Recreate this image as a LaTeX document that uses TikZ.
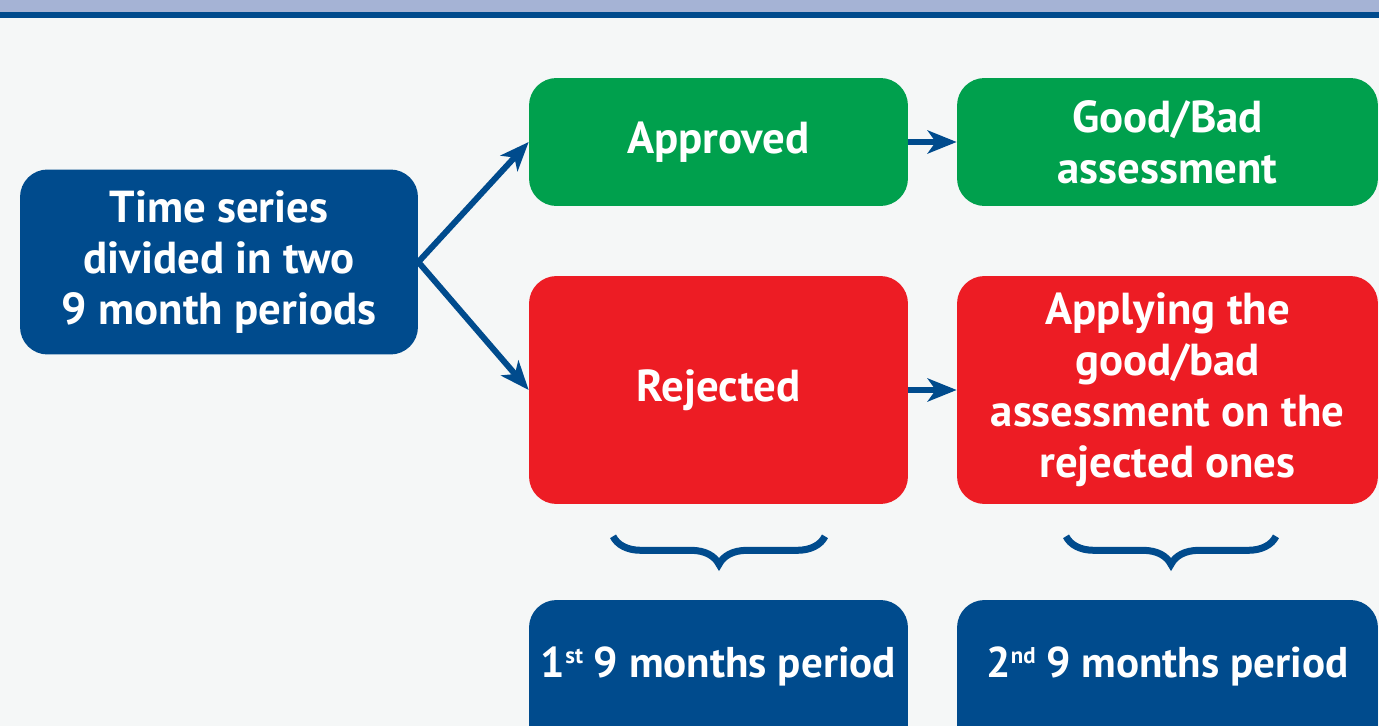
\documentclass[tikz,border=0pt]{standalone}
\usepackage{fontspec}
\setmainfont{PT Sans}
\usetikzlibrary{arrows.meta,decorations.pathreplacing}
\definecolor{darkblue}{HTML}{004B8D}
\definecolor{lightbar}{HTML}{A5B3D5}
\definecolor{okgreen}{HTML}{00A04D}
\definecolor{badred}{HTML}{ED1C24}
\definecolor{paper}{HTML}{F5F7F7}
\newcommand{\ordsup}[1]{\raisebox{0.62ex}{\fontsize{13}{13}\selectfont #1}}

\begin{document}
\begin{tikzpicture}[x=0.02cm,y=-0.02cm,
  box/.style={rounded corners=0.55cm, text=white, align=center, inner sep=0pt,
    font=\bfseries\fontsize{25.5}{29}\selectfont},
  arr/.style={darkblue, line width=0.12cm, -{Stealth[length=5.8mm,width=4.6mm,inset=1.6mm]}},
  brace/.style={darkblue, line width=0.14cm, decorate, decoration={brace,mirror,amplitude=0.56cm}}]
\fill[paper] (0,0) rectangle (1379,726);
\useasboundingbox (0,0) rectangle (1379,726);
\fill[lightbar] (0,0) rectangle (1379,12);
\fill[darkblue] (0,12) rectangle (1379,18);

\node[box, fill=darkblue, minimum width=7.96cm, minimum height=3.7cm] (series) at (219,262) {Time series\\divided in two\\9 month periods};
\node[box, fill=okgreen, minimum width=7.58cm, minimum height=2.56cm] (approved) at (718.5,142) {Approved};
\node[box, fill=okgreen, minimum width=8.42cm, minimum height=2.56cm] (goodbad) at (1167.5,142) {Good/Bad\\assessment};
\node[box, fill=badred, minimum width=7.58cm, minimum height=4.56cm] (rejected) at (718.5,390) {Rejected};
\node[box, fill=badred, minimum width=8.42cm, minimum height=4.56cm] (applying) at (1167.5,390) {Applying the\\good/bad\\assessment on the\\rejected ones};

% bottom boxes run past the lower edge
\node[box, fill=darkblue, minimum width=7.58cm, minimum height=3.2cm] (firstbox) at (718.5,680) {};
\node[box, fill=darkblue, minimum width=8.42cm, minimum height=3.2cm] (secondbox) at (1167.5,680) {};
\node[box, font=\bfseries\fontsize{24.5}{29}\selectfont] (first) at (718.5,666) {1\ordsup{st} 9 months period};
\node[box, font=\bfseries\fontsize{24.5}{29}\selectfont] (second) at (1167.5,666) {2\ordsup{nd} 9 months period};

\draw[arr] (series.east) -- (approved.west);
\draw[arr] (series.east) -- (rejected.west);
\draw[arr] (approved) -- (goodbad);
\draw[arr] (rejected) -- (applying);

\draw[brace] ([xshift=-2.11cm,yshift=-0.64cm]rejected.south) -- ([xshift=2.13cm,yshift=-0.64cm]rejected.south);
\draw[brace] ([xshift=-2.03cm,yshift=-0.64cm]applying.south) -- ([xshift=2.17cm,yshift=-0.64cm]applying.south);
\end{tikzpicture}
\end{document}
